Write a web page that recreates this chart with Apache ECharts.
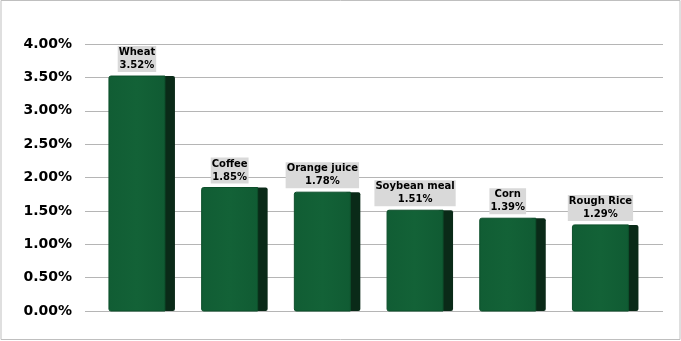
<!DOCTYPE html>
<html>
<head>
<meta charset="utf-8">
<script src="https://cdn.jsdelivr.net/npm/echarts@6/dist/echarts.min.js"></script>
<style>html,body{margin:0;padding:0;background:#fff}#c{width:681px;height:341px}</style>
</head>
<body>
<div id="c"></div>
<script>
const categories = ['Wheat', 'Coffee', 'Orange juice', 'Soybean meal', 'Corn', 'Rough Rice'];
const values = [3.52, 1.85, 1.78, 1.51, 1.39, 1.29];
const yMin = 0, yMax = 4, yStep = 0.5;

const chart = echarts.init(document.getElementById('c'), null, {renderer: 'canvas'});
const option = {
  animation: false,
  backgroundColor: '#ffffff',
  graphic: [{
    type: 'rect', shape: {x: 1, y: 0.5, width: 679, height: 339},
    style: {fill: 'none', stroke: '#bfbfbf', lineWidth: 1}, z: 0, silent: true
  }],
  grid: [
    {left: 85, right: 18, top: 44, bottom: 30},
    {left: 95.6, right: 29.2, top: 44, bottom: 30}
  ],
  xAxis: [
    {gridIndex: 0, type: 'value', min: 0, max: 1, show: false},
    {gridIndex: 1, type: 'category', data: categories, show: false}
  ],
  yAxis: [
    {
      gridIndex: 0, type: 'value', min: yMin, max: yMax, interval: yStep,
      axisLine: {show: false}, axisTick: {show: false},
      axisLabel: {
        margin: 13, color: '#000', fontWeight: 'bold', fontSize: 14,
        fontFamily: 'DejaVu Sans',
        formatter: v => v.toFixed(2) + '%'
      },
      splitLine: {lineStyle: {color: '#b5b5b5', width: 1}}
    },
    {gridIndex: 1, type: 'value', min: yMin, max: yMax, interval: yStep, show: false, splitLine: {show: false}}
  ],
  series: [{
    type: 'custom',
    xAxisIndex: 1, yAxisIndex: 1,
    data: values.map((v, i) => [i, v]),
    renderItem: function (params, api) {
      const idx = api.value(0), val = api.value(1);
      const p = api.coord([idx, val]);
      const b = api.coord([idx, 0]);
      const cx = p[0], top = p[1], bottom = b[1];
      return {
        type: 'group',
        children: [
          {
            type: 'rect',
            shape: {x: cx + 18, y: top, width: 15, height: bottom - top, r: 2},
            style: {fill: '#0a2a18'}
          },
          {
            type: 'rect',
            shape: {x: cx - 33, y: top, width: 56, height: bottom - top, r: [2, 0, 0, 2]},
            style: {
              fill: new echarts.graphic.LinearGradient(0, 0, 1, 0, [
                {offset: 0, color: '#115d34'},
                {offset: 0.5, color: '#136237'},
                {offset: 1, color: '#105b33'}
              ]),
              stroke: '#0d4f2b', lineWidth: 1
            }
          },
          {
            type: 'text',
            z2: 10,
            style: {
              x: cx - 5, y: top - 4,
              text: categories[idx] + '\n' + val.toFixed(2) + '%',
              fill: '#000',
              font: 'bold 10px "DejaVu Sans"',
              align: 'center', verticalAlign: 'bottom',
              lineHeight: 13,
              backgroundColor: '#d9d9d9',
              padding: [0, 1, 0, 1]
            }
          }
        ]
      };
    }
  }]
};
chart.setOption(option);
</script>
</body>
</html>
